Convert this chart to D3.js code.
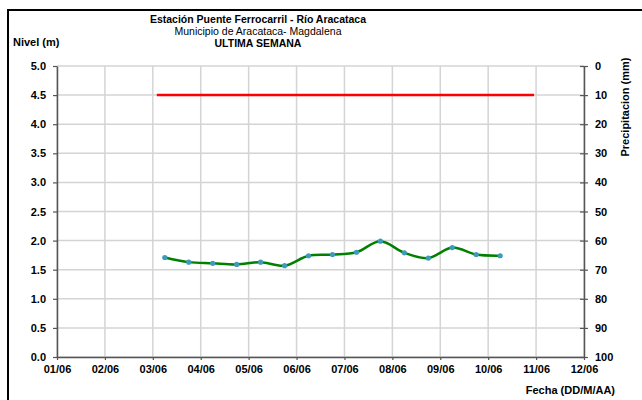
<!DOCTYPE html>
<html><head><meta charset="utf-8">
<script src="https://cdn.jsdelivr.net/npm/d3@7"></script>
<style>
body{margin:0;background:#fff;}
text{font-family:"Liberation Sans",Arial,sans-serif;}
</style></head>
<body><svg id="c" width="642" height="400"></svg>
<script>
const titleLines = ["Estación Puente Ferrocarril - Río Aracataca","Municipio de Aracataca- Magdalena","ULTIMA SEMANA"];
const times = ["2020-06-03T06:00","2020-06-03T18:00","2020-06-04T06:00","2020-06-04T18:00","2020-06-05T06:00",
  "2020-06-05T18:00","2020-06-06T06:00","2020-06-06T18:00","2020-06-07T06:00","2020-06-07T18:00",
  "2020-06-08T06:00","2020-06-08T18:00","2020-06-09T06:00","2020-06-09T18:00","2020-06-10T06:00"];
const levels = [1.71,1.63,1.61,1.59,1.63,1.57,1.74,1.76,1.80,1.99,1.79,1.70,1.88,1.76,1.74];
const alertTimes = ["2020-06-03T02:00","2020-06-10T23:00"];
const alertLevels = [4.5,4.5];
const yTicks = [0,0.5,1,1.5,2,2.5,3,3.5,4,4.5,5];
const precipTicks = [0,10,20,30,40,50,60,70,80,90,100];
const xStart = "2020-06-01T00:00", xEnd = "2020-06-12T00:00";

const parse = d3.timeParse("%Y-%m-%dT%H:%M");
const svg = d3.select("#c");
const L=57,R=584,T=66,B=357;
const x = d3.scaleTime().domain([parse(xStart),parse(xEnd)]).range([L,R]);
const y = d3.scaleLinear().domain([0,5]).range([B,T]);
const y2 = d3.scaleLinear().domain([0,100]).range([T,B]);

// frame
svg.append("rect").attr("x",8).attr("y",10).attr("width",700).attr("height",450)
  .attr("fill","none").attr("stroke","#000").attr("stroke-width",2);

// grid
const dayTicks = d3.timeDay.range(parse(xStart), d3.timeDay.offset(parse(xEnd),1));
svg.append("g").selectAll("line").data(dayTicks).join("line")
  .attr("x1",d=>x(d)).attr("x2",d=>x(d)).attr("y1",T).attr("y2",B)
  .attr("stroke","#d4d4d4").attr("stroke-width",1.5);
svg.append("g").selectAll("line").data(yTicks).join("line")
  .attr("x1",L).attr("x2",R).attr("y1",d=>y(d)).attr("y2",d=>y(d))
  .attr("stroke","#d4d4d4").attr("stroke-width",1.5);

// axes
const ax = g=>{g.select(".domain").attr("stroke","#555").attr("stroke-width",1.5);
  g.selectAll(".tick line").attr("stroke","#555").attr("stroke-width",1.2);
  g.selectAll("text").attr("font-size",11).attr("font-weight","bold").attr("fill","#000");};
svg.append("g").attr("transform",`translate(${L},0)`)
  .call(d3.axisLeft(y).tickValues(yTicks).tickFormat(d3.format(".1f")).tickSize(4).tickPadding(7).tickSizeOuter(0))
  .call(ax);
svg.append("g").attr("transform",`translate(${R},0)`)
  .call(d3.axisRight(y2).tickValues(precipTicks).tickSize(4).tickPadding(7).tickSizeOuter(0))
  .call(ax).call(g=>g.selectAll(".tick line").attr("x1",-4));
svg.append("g").attr("transform",`translate(0,${B})`)
  .call(d3.axisBottom(x).tickValues(dayTicks).tickFormat(d3.timeFormat("%d/%m")).tickSize(3).tickPadding(5).tickSizeOuter(0))
  .call(ax);

// alert line
svg.append("path").datum(alertTimes.map((t,i)=>[parse(t),alertLevels[i]]))
  .attr("d",d3.line().x(d=>x(d[0])).y(d=>y(d[1])))
  .attr("stroke","#ff0000").attr("stroke-width",2.5).attr("fill","none");

// level line
const pts = times.map((t,i)=>[parse(t),levels[i]]);
svg.append("path").datum(pts)
  .attr("d",d3.line().curve(d3.curveCatmullRom.alpha(0.5)).x(d=>x(d[0])).y(d=>y(d[1])))
  .attr("stroke","#008000").attr("stroke-width",2.5).attr("fill","none");
svg.append("g").selectAll("circle").data(pts).join("circle")
  .attr("cx",d=>x(d[0])).attr("cy",d=>y(d[1])).attr("r",2.6).attr("fill","#3f9cb8");

// titles
const tcx=258;
svg.append("text").attr("x",tcx).attr("y",23).attr("text-anchor","middle").attr("font-size",10.5).attr("font-weight","bold").text(titleLines[0]);
svg.append("text").attr("x",tcx).attr("y",35).attr("text-anchor","middle").attr("font-size",10.5).text(titleLines[1]);
svg.append("text").attr("x",tcx).attr("y",47).attr("text-anchor","middle").attr("font-size",10.5).attr("font-weight","bold").text(titleLines[2]);
svg.append("text").attr("x",13).attr("y",46).attr("font-size",11).attr("font-weight","bold").text("Nivel (m)");
svg.append("text").attr("x",615).attr("y",394).attr("text-anchor","end").attr("font-size",11).attr("font-weight","bold").text("Fecha (DD/M/AA)");
svg.append("text").attr("transform","translate(629,107) rotate(-90)").attr("text-anchor","middle").attr("font-size",11).attr("font-weight","bold").text("Precipitacion (mm)");
</script></body></html>
